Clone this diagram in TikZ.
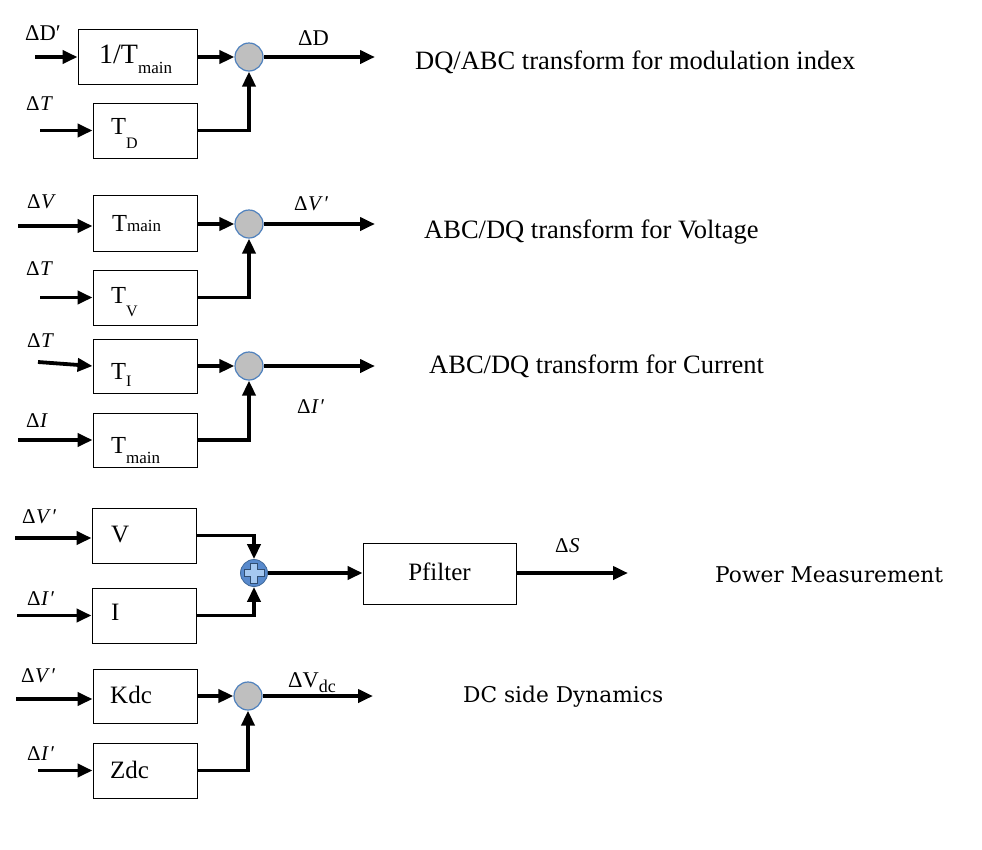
\documentclass[tikz,border=0pt]{standalone}
\usepackage{fontspec}
\setmainfont{Liberation Serif}
\newfontfamily\cambria{DejaVu Serif}
\usetikzlibrary{arrows.meta}
\definecolor{sumgray}{RGB}{191,191,191}
\definecolor{sumblue}{RGB}{79,129,189}
\definecolor{plusfill}{RGB}{165,200,240}
\definecolor{plusball}{RGB}{88,138,205}
\newcommand\subdrop[3]{\raisebox{-#1pt}{\fontsize{#2}{#2}\selectfont #3}}
\newcommand\dvar[1]{Δ\kern0.5pt\textit{#1}}
\newcommand\dvarp[1]{Δ\kern0.5pt\textit{#1}\kern1.5pt′}
\begin{document}
\begin{tikzpicture}[x=1pt,y=-1pt,
  blk/.style={draw,line width=0.9pt,inner sep=0pt,minimum height=55pt},
  boxtxt/.style={anchor=base west,inner sep=0pt,font=\fontsize{24}{28}\selectfont},
  sumnode/.style={circle,draw=sumblue,line width=1.2pt,fill=sumgray,minimum size=28pt,inner sep=0pt},
  sig/.style={line width=3.8pt,-{Triangle[length=15pt,width=13pt]}},
  mlbl/.style={anchor=base west,inner sep=0pt,font=\fontsize{21}{24}\selectfont},
  tlbl/.style={anchor=base west,inner sep=0pt,font=\fontsize{22.5}{26}\selectfont},
  desc/.style={anchor=base west,inner sep=0pt,font=\fontsize{26.5}{30}\selectfont},
  cdesc/.style={anchor=base west,inner sep=0pt,font=\cambria\fontsize{21.7}{25}\selectfont},
]
\useasboundingbox (0,0) rectangle (982,849);

% ---------------- Row 1 ----------------
\node[blk,minimum width=119pt] (b1) at (137.5,56.5) {};
\node[blk,minimum width=104pt] (b2) at (145,130.5) {};
\node[boxtxt,font=\fontsize{28}{32}\selectfont] (b1t) at (99,63) {1/T\subdrop{10}{17}{main}};
\node[boxtxt,font=\fontsize{24.5}{28}\selectfont] (b2t) at (111,134) {T\subdrop{14}{16}{D}};
\node[sumnode] (s1) at (249,57) {};
\coordinate (i1a) at (35,57);
\coordinate (i1b) at (40,130.5);
\coordinate (o1) at (375,57);
\draw[sig] (i1a) -- (i1a -| b1.west);
\draw[sig] (b1.east |- s1.west) -- (s1.west);
\draw[sig] (i1b) -- (b2.west);
\draw[sig] (b2.east) -| (s1.south);
\draw[sig] (s1.east) -- (o1);
\node[tlbl] (l1a) at (25,40) {ΔD′};
\node[mlbl] (l1b) at (26,110) {\dvar{T}};
\node[tlbl] (l1c) at (298,45) {ΔD};
\node[desc] (d1) at (415,69) {DQ/ABC transform for modulation index};

% ---------------- Row 2 ----------------
\node[blk,minimum width=104pt,minimum height=56pt] (b3) at (145,223) {};
\node[blk,minimum width=104pt] (b4) at (145,297.5) {};
\node[boxtxt,font=\fontsize{24.5}{28}\selectfont] (b3t) at (112,231) {T\subdrop{0}{17}{main}};
\node[boxtxt,font=\fontsize{24.5}{28}\selectfont] (b4t) at (111,303) {T\subdrop{13}{16}{V}};
\node[sumnode] (s2) at (249,224) {};
\coordinate (i2a) at (18,226);
\coordinate (i2b) at (40,297.5);
\coordinate (o2) at (375,224);
\draw[sig] (i2a) -- (i2a -| b3.west);
\draw[sig] (b3.east |- s2.west) -- (s2.west);
\draw[sig] (i2b) -- (b4.west);
\draw[sig] (b4.east) -| (s2.south);
\draw[sig] (s2.east) -- (o2);
\node[mlbl] (l2a) at (27,208) {\dvar{V}};
\node[mlbl] (l2b) at (26,275) {\dvar{T}};
\node[mlbl] (l2c) at (294,210) {\dvarp{V}};
\node[desc] (d2) at (424,238) {ABC/DQ transform for Voltage};

% ---------------- Row 3 ----------------
\node[blk,minimum width=104pt,minimum height=54pt] (b5) at (145,366) {};
\node[blk,minimum width=104pt,minimum height=54pt] (b6) at (145,440) {};
\node[boxtxt,font=\fontsize{24.5}{28}\selectfont] (b5t) at (111,379) {T\subdrop{7}{16}{I}};
\node[boxtxt,font=\fontsize{24.5}{28}\selectfont] (b6t) at (111,453) {T\subdrop{10}{17}{main}};
\node[sumnode] (s3) at (249,366) {};
\coordinate (i3a) at (38,362);
\coordinate (i3b) at (18,440);
\coordinate (o3) at (375,366);
\draw[sig] (i3a) -- (b5.west);
\draw[sig] (b5.east |- s3.west) -- (s3.west);
\draw[sig] (i3b) -- (b6.west);
\draw[sig] (b6.east) -| (s3.south);
\draw[sig] (s3.east) -- (o3);
\node[mlbl] (l3a) at (27,347) {\dvar{T}};
\node[mlbl] (l3b) at (26,427) {\dvar{I}};
\node[mlbl] (l3c) at (297,413) {\dvarp{I}};
\node[desc] (d3) at (429,373) {ABC/DQ transform for Current};

% ---------------- Row 4 ----------------
\node[blk,minimum width=104pt] (b7) at (144,535.5) {};
\node[blk,minimum width=104pt] (b8) at (144,615.5) {};
\node[boxtxt,font=\fontsize{25}{29}\selectfont] (b7t) at (111,542) {V};
\node[boxtxt,font=\fontsize{25}{29}\selectfont] (b8t) at (111,620) {I};
\node[blk,minimum width=153pt,minimum height=61pt] (b9) at (439.5,573.5) {};
\node[anchor=base,inner sep=0pt,font=\fontsize{25}{29}\selectfont] (b9t) at (439.5,580) {Pfilter};
\node[circle,draw=sumblue!80!black,line width=0.8pt,fill=plusball,minimum size=27pt,inner sep=0pt] (s4) at (254,573) {};
\begin{scope}[shift={(s4.center)}]
  \filldraw[fill=plusfill,draw=sumblue!60!black,line width=0.6pt]
    (-3.5,-10) -- (3.5,-10) -- (3.5,-3.5) -- (10,-3.5) -- (10,3.5) -- (3.5,3.5)
    -- (3.5,10) -- (-3.5,10) -- (-3.5,3.5) -- (-10,3.5) -- (-10,-3.5) -- (-3.5,-3.5) -- cycle;
\end{scope}
\coordinate (i4a) at (15,538);
\coordinate (i4b) at (17,615.5);
\coordinate (o4) at (628,573);
\draw[sig] (i4a) -- (i4a -| b7.west);
\draw[sig] (i4b) -- (b8.west);
\draw[sig] (b7.east) -| (s4.north);
\draw[sig] (b8.east) -| (s4.south);
\draw[sig] (s4.east) -- (b9.west |- s4.east);
\draw[sig] (b9.east |- o4) -- (o4);
\node[mlbl] (l4a) at (22,523) {\dvarp{V}};
\node[mlbl] (l4b) at (27,605) {\dvarp{I}};
\node[mlbl] (l4c) at (555,552) {\dvar{S}};
\node[cdesc] (d4) at (715,582) {Power Measurement};

% ---------------- Row 5 ----------------
\node[blk,minimum width=104pt,minimum height=54pt] (b10) at (145,696) {};
\node[blk,minimum width=104pt] (b11) at (145,770.5) {};
\node[boxtxt,font=\fontsize{25}{29}\selectfont] (b10t) at (110,703) {Kdc};
\node[boxtxt,font=\fontsize{25}{29}\selectfont] (b11t) at (110,778) {Zdc};
\node[sumnode] (s5) at (248,696) {};
\coordinate (i5a) at (16,699);
\coordinate (i5b) at (38,770.5);
\coordinate (o5) at (373,696);
\draw[sig] (i5a) -- (i5a -| b10.west);
\draw[sig] (b10.east |- s5.west) -- (s5.west);
\draw[sig] (i5b) -- (b11.west);
\draw[sig] (b11.east) -| (s5.south);
\draw[sig] (s5.east) -- (o5);
\node[mlbl] (l5a) at (21,682) {\dvarp{V}};
\node[mlbl] (l5b) at (27,760) {\dvarp{I}};
\node[tlbl] (l5c) at (288,687) {ΔV\subdrop{5}{18}{dc}};
\node[cdesc] (d5) at (463,702) {DC side Dynamics};
\end{tikzpicture}
\end{document}
